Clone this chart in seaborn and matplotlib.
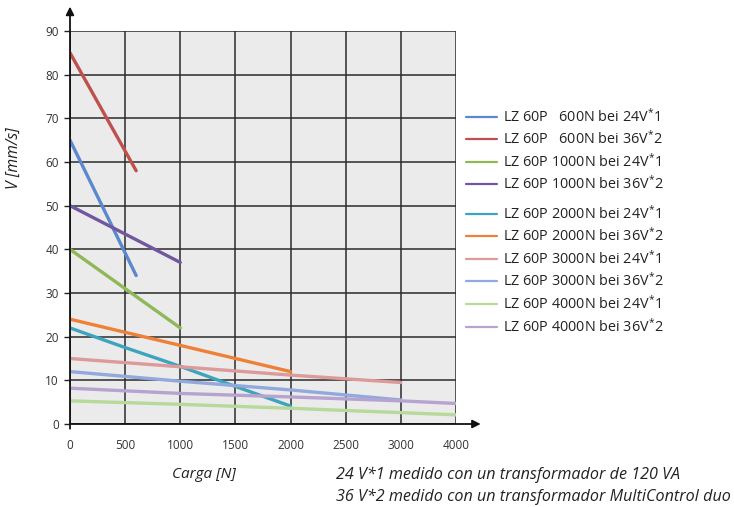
import numpy as np
import pandas as pd
import matplotlib
matplotlib.use("Agg")
import matplotlib.pyplot as plt
from matplotlib.lines import Line2D
import seaborn as sns

# Load (N) and speed (mm/s) for each actuator / supply combination
labels = [
    "LZ 60P   600N bei 24V$^{*}$1",
    "LZ 60P   600N bei 36V$^{*}$2",
    "LZ 60P 1000N bei 24V$^{*}$1",
    "LZ 60P 1000N bei 36V$^{*}$2",
    "LZ 60P 2000N bei 24V$^{*}$1",
    "LZ 60P 2000N bei 36V$^{*}$2",
    "LZ 60P 3000N bei 24V$^{*}$1",
    "LZ 60P 3000N bei 36V$^{*}$2",
    "LZ 60P 4000N bei 24V$^{*}$1",
    "LZ 60P 4000N bei 36V$^{*}$2",
]
loads = [
    [0, 600],
    [0, 600],
    [0, 1000],
    [0, 1000],
    [0, 500, 1000, 1500, 2000],
    [0, 1000, 2000],
    [0, 1000, 2000, 3000],
    [0, 1000, 2000, 3000],
    [0, 1000, 2000, 3000, 4000],
    [0, 1000, 2000, 3000, 4000],
]
speeds = [
    [65, 34],
    [85, 58],
    [40, 22],
    [50, 37],
    [22, 17.5, 13.2, 8.6, 4.1],
    [24, 18, 12],
    [15, 13.1, 11.2, 9.5],
    [12, 9.8, 7.8, 5.5],
    [5.3, 4.5, 3.6, 2.6, 2.1],
    [8.2, 7.0, 6.2, 5.3, 4.7],
]
colors = ["#5b88cf", "#c0504d", "#8fb856", "#7057a0", "#3ea3bd",
          "#ef8036", "#dc9a9a", "#91a9dc", "#b7d99a", "#b7a3cf"]
x_ticks = [0, 500, 1000, 1500, 2000, 2500, 3000, 4000]
y_ticks = list(range(0, 100, 10))

rows = []
for lab, xs, vs in zip(labels, loads, speeds):
    for x, v in zip(xs, vs):
        rows.append({"Carga": x, "V": v, "serie": lab})
df = pd.DataFrame(rows)

sns.set_theme(style="white")
plt.rcParams["font.family"] = ["Open Sans", "DejaVu Sans"]
plt.rcParams["mathtext.fontset"] = "custom"
plt.rcParams["mathtext.rm"] = "Open Sans"

W, H = 734, 507
fig = plt.figure(figsize=(W / 100, H / 100), dpi=100)
ax = fig.add_axes([70 / W, 1 - 424 / H, (456 - 70) / W, (424 - 31) / H])
ax.set_facecolor("#ebebeb")

# The last interval (3000-4000 N) is drawn at half width
def fwd(x):
    x = np.asarray(x, dtype=float)
    return np.where(x <= 3000, x, 3000 + (x - 3000) * 0.5)

def inv(x):
    x = np.asarray(x, dtype=float)
    return np.where(x <= 3000, x, 3000 + (x - 3000) * 2.0)

ax.set_xscale("function", functions=(fwd, inv))

palette = dict(zip(labels, colors))
sns.lineplot(data=df, x="Carga", y="V", hue="serie", palette=palette,
             hue_order=labels, estimator=None, sort=True, linewidth=2.4,
             legend=False, ax=ax, zorder=3)

ax.set_xlim(0, 4000)
ax.set_ylim(0, 90)
ax.set_xticks(x_ticks)
ax.set_xticklabels([str(t) for t in x_ticks])
ax.set_yticks(y_ticks)
ax.grid(True, color="#2a2a2a", linewidth=1.1, zorder=1)
ax.set_axisbelow(True)
for s in ax.spines.values():
    s.set_visible(False)
ax.tick_params(axis="y", length=4, width=1, color="#222222", pad=4,
               labelsize=8.5, labelcolor="#333333", direction="out", left=True)
ax.tick_params(axis="x", length=0, pad=11, labelsize=8.5, labelcolor="#333333")
ax.set_xlabel("")
ax.set_ylabel("")

# Axis lines with arrow heads
ax.annotate("", xy=(0, 1.062), xytext=(0, -0.012), xycoords="axes fraction",
            arrowprops=dict(arrowstyle="-|>", color="#111111", lw=1.3,
                            mutation_scale=12, shrinkA=0, shrinkB=0),
            annotation_clip=False)
ax.annotate("", xy=(1.064, 0), xytext=(0, 0), xycoords="axes fraction",
            arrowprops=dict(arrowstyle="-|>", color="#111111", lw=1.3,
                            mutation_scale=12, shrinkA=0, shrinkB=0),
            annotation_clip=False)

fig.text(14 / W, 1 - 158 / H, "V [mm/s]", rotation=90, style="italic",
         fontsize=11.3, color="#222222", ha="center", va="center")
fig.text(172 / W, 1 - 475 / H, "Carga [N]", style="italic",
         fontsize=11, color="#222222", ha="left", va="center")
fig.text(336 / W, 1 - 475 / H,
         "24 V*1 medido con un transformador de 120 VA", style="italic",
         fontsize=11.6, color="#222222", ha="left", va="center")
fig.text(336 / W, 1 - 497 / H,
         "36 V*2 medido con un transformador MultiControl duo", style="italic",
         fontsize=11.6, color="#222222", ha="left", va="center")

# Legend on the right
legend_y = [117, 138.5, 161.5, 184, 214, 236, 259, 281, 304, 326.5]
for lab, col, yy in zip(labels, colors, legend_y):
    yf = 1 - yy / H
    fig.add_artist(Line2D([466 / W, 497 / W], [yf, yf], color=col, lw=1.6))
    fig.text(503 / W, yf, lab, fontsize=10.4, color="#222222",
             ha="left", va="center")

fig.savefig("out.png", dpi=100)
